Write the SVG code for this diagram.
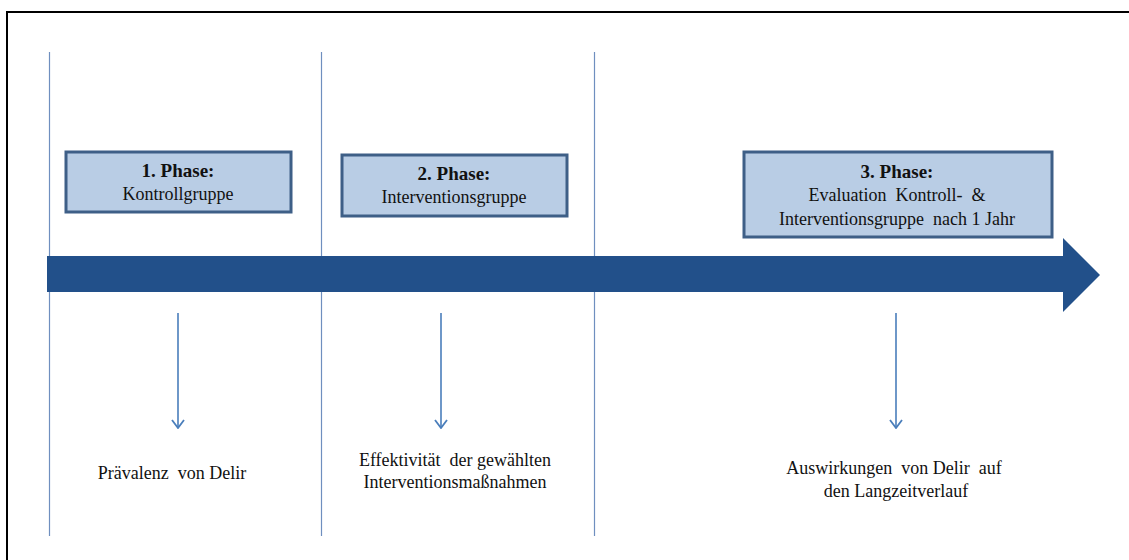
<svg xmlns="http://www.w3.org/2000/svg" width="1129" height="560" viewBox="0 0 1129 560">
  <style>
    .frame { fill: none; stroke: #000; stroke-width: 2; }
    .divider { stroke: #6F8FBF; stroke-width: 1.2; }
    .box { fill: #B9CDE5; stroke: #3E5F87; stroke-width: 3; }
    .t { font-family: "Liberation Serif", "Times New Roman", serif; font-size: 18px; fill: #111; text-anchor: middle; }
    .b { font-weight: bold; font-size: 19px; }
    .down { stroke: #4A7EBB; stroke-width: 1.6; fill: none; }
  </style>
  <defs>
    <!-- open chevron head, drawn along +x so orient="auto" points it down the line -->
    <marker id="chev" viewBox="0 0 12 14" refX="11" refY="7" markerWidth="12" markerHeight="14" markerUnits="userSpaceOnUse" orient="auto">
      <path d="M3,1 L11,7 L3,13" fill="none" stroke="#4A7EBB" stroke-width="1.8"/>
    </marker>
  </defs>
  <rect width="1129" height="560" fill="#fff"/>
  <path class="frame" d="M7,562 L7,12 L1131,12"/>

  <!-- phase dividers -->
  <g id="dividers">
    <line class="divider" x1="49.5" y1="52" x2="49.5" y2="536"/>
    <line class="divider" x1="321.5" y1="52" x2="321.5" y2="536"/>
    <line class="divider" x1="594.5" y1="52" x2="594.5" y2="536"/>
  </g>

  <!-- timeline arrow -->
  <g id="timeline">
    <path d="M47,256 L1063,256 L1063,238 L1100,275 L1063,312 L1063,292 L47,292 Z" fill="#22508A"/>
  </g>

  <g id="phase1">
    <rect class="box" x="66" y="152" width="225" height="60"/>
    <text class="t b" x="178" y="177">1. Phase:</text>
    <text class="t" x="178" y="200">Kontrollgruppe</text>
  </g>

  <g id="phase2">
    <rect class="box" x="342" y="155" width="225" height="61"/>
    <text class="t b" x="454" y="180">2. Phase:</text>
    <text class="t" x="454" y="203">Interventionsgruppe</text>
  </g>

  <g id="phase3">
    <rect class="box" x="744" y="152" width="308" height="85"/>
    <text class="t b" x="897" y="178">3. Phase:</text>
    <text class="t" x="897" y="201" xml:space="preserve">Evaluation  Kontroll-  &amp;</text>
    <text class="t" x="897" y="225" xml:space="preserve">Interventionsgruppe  nach 1 Jahr</text>
  </g>

  <g id="connectors">
    <line class="down" x1="178" y1="313" x2="178" y2="428" marker-end="url(#chev)"/>
    <line class="down" x1="441" y1="313" x2="441" y2="428" marker-end="url(#chev)"/>
    <line class="down" x1="896" y1="313" x2="896" y2="428" marker-end="url(#chev)"/>
  </g>

  <g id="outcome1">
    <text class="t" x="172" y="479" xml:space="preserve">Prävalenz  von Delir</text>
  </g>
  <g id="outcome2">
    <text class="t" x="455" y="466" xml:space="preserve">Effektivität  der gewählten</text>
    <text class="t" x="455" y="488">Interventionsmaßnahmen</text>
  </g>
  <g id="outcome3">
    <text class="t" x="894" y="474" xml:space="preserve">Auswirkungen  von Delir  auf</text>
    <text class="t" x="896" y="497">den Langzeitverlauf</text>
  </g>
</svg>
